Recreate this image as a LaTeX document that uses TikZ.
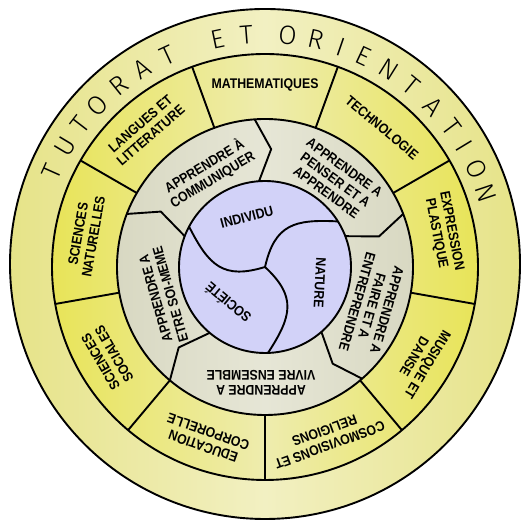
\documentclass[tikz,border=0pt]{standalone}
\usepackage{fontspec}
\setmainfont{Liberation Sans}[FakeStretch=0.88]
\newfontfamily\titlefont{Fira Sans}[UprightFont={* Light}]

\begin{document}
\begin{tikzpicture}[x=1pt, y=1pt,
    ringline/.style={line width=1.9pt, line join=round},
    subjecttext/.style={font=\fontsize{14}{15.5}\selectfont\bfseries, align=center, inner sep=0pt},
    titleletter/.style={font=\titlefont\fontsize{26.5}{26.5}\selectfont, inner sep=0pt}]
    \definecolor{outerSide}{HTML}{E6E388}
    \definecolor{outerMid}{HTML}{F2F0C2}
    \definecolor{subjectSide}{HTML}{E8E458}
    \definecolor{subjectMid}{HTML}{EEECAE}
    \definecolor{learnSide}{HTML}{D8D8C2}
    \definecolor{learnMid}{HTML}{E6E6D6}
    \definecolor{innerFill}{HTML}{D2D2F8}

    \def\rOuter{255pt}
    \def\rSubject{213pt}
    \def\rLearn{148pt}
    \def\rInner{86pt}

    \useasboundingbox (0,0) rectangle (523,521);
    \coordinate (C) at (265,254);

    \begin{scope}[shift={(C)}]
    % Fill the rings
    \shade[left color=outerSide, right color=outerSide, middle color=outerMid] (0,3) circle (\rOuter);
    \shade[left color=subjectSide, right color=subjectSide, middle color=subjectMid] (0,0) circle (\rSubject);
    \shade[left color=learnSide, right color=learnSide, middle color=learnMid] (0,0) circle (\rLearn);
    \fill[innerFill] (0,0) circle (\rInner);

    % Draw the ring borders
    \draw[ringline] (0,3) circle (\rOuter);
    \draw[ringline] (0,0) circle (\rSubject);
    \draw[ringline] (0,0) circle (\rLearn);
    \draw[ringline] (0,0) circle (\rInner);

    % Subject dividers
    \foreach \a in {30,70,...,350}
        \draw[ringline] (\a:\rLearn) -- (\a:\rSubject);

    % Bent dividers of the middle ring
    \foreach \a/\b in {94/87, 21/15, -49/-55, 230/223, 159/152}
        \draw[ringline] (\a:\rInner) -- (\b:118pt) -- (\a:\rLearn);

    % Three arms in the centre
    \foreach \a [evaluate=\a as \outA using \a+45, evaluate=\a as \inA using \a+145] in {272,32,152}
        \draw[ringline] (0,0) to[out=\outA, in=\inA, looseness=1.3] (\a:\rInner);

    % Label subjects
    \foreach \a/\txt [count=\k] in {90/MATHEMATIQUES, 50/TECHNOLOGIE, 11/{EXPRESSION\\PLASTIQUE},
            329/{MUSIQUE ET\\DANSE}, 290/{COSMOVISIONS ET\\RELIGIONS}, 251/{EDUCATION\\CORPORELLE},
            210/{SCIENCES\\SOCIALES}, 170/{SCIENCES\\NATURELLES}, 131/{LANGUES ET\\LITTERATURE}}
        \node[subjecttext, rotate=\a-90] (subject\k) at (\a:182pt) {\txt};

    % Label the middle ring
    \node[subjecttext, rotate=31] (communiquer) at (121:110pt) {APPRENDRE À\\COMMUNIQUER};
    \node[subjecttext, rotate=-36] (penser) at (51:112pt) {APPRENDRE A\\PENSER ET A\\APPRENDRE};
    \node[subjecttext, rotate=-106] (faire) at (-20:114pt) {APPRENDRE A\\FAIRE ET A\\ENTREPRENDRE};
    \node[subjecttext, rotate=180] (vivre) at (268:116pt) {APPRENDRE A\\VIVRE ENSEMBLE};
    \node[subjecttext, rotate=106] (etre) at (196:106pt) {APPRENDRE A\\ETRE SOI-MEME};

    % Label the centre
    \node[subjecttext, rotate=15] (individu) at (110:53pt) {INDIVIDU};
    \node[subjecttext, rotate=-93] (nature) at (-16:57pt) {NATURE};
    \node[subjecttext, rotate=140] (societe) at (224:52pt) {SOCIÉTÉ};

    % Title round the outer ring
    \foreach \a/\ch [count=\k] in {156/T, 149/U, 142.5/T, 136/O, 128.8/R, 121.8/A, 114.8/T,
            101.8/E, 94.6/T, 84.4/O, 77.4/R, 71/I, 65/E, 58/N, 51/T, 43.6/A, 36.8/T, 31.2/I, 24.8/O, 18.4/N}
        \node[titleletter, rotate=\a-90] (title\k) at (\a:233pt) {\ch};
    \end{scope}

\end{tikzpicture}
\end{document}
